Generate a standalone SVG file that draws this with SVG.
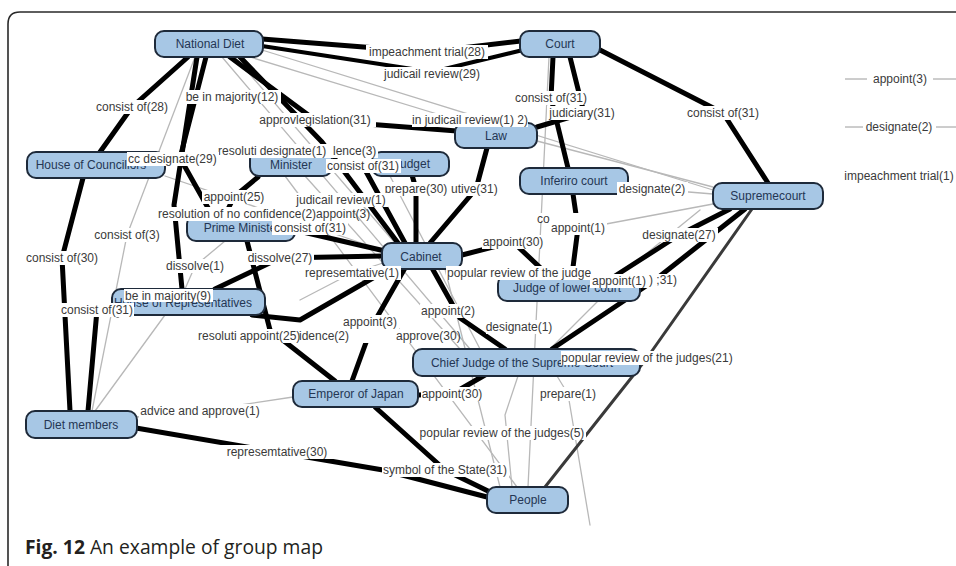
<svg xmlns="http://www.w3.org/2000/svg" width="956" height="566" viewBox="0 0 956 566">
<style>
  .e{fill:none;stroke:#000;stroke-linejoin:round;stroke-linecap:round}
  .w5{stroke-width:5}
  .w4{stroke-width:4}
  .w3{stroke:#3a3a3a;stroke-width:3}
  .g{stroke:#b8b8b8;stroke-width:1.3}
  .nd rect{fill:#a7c7e5;stroke:#1e2a3a;stroke-width:2}
  .nd text{font-family:"Liberation Sans",Arial,sans-serif;font-size:12px;fill:#243654;text-anchor:middle}
  .lb rect{fill:#fff}
  .lb text{font-family:"Liberation Sans",Arial,sans-serif;font-size:12px;fill:#3a3a3a;text-anchor:middle}
  .lb text.s{text-anchor:start}
  .legend line{stroke:#9a9a9a;stroke-width:1}
  .legend text{font-family:"Liberation Sans",Arial,sans-serif;font-size:12px;fill:#3a3a3a;text-anchor:middle}
</style>
<rect width="956" height="566" fill="#fff"/>
<!-- figure frame -->
<path d="M8,566 V24 Q8,12 20,12 H956" fill="none" stroke="#2a2a2a" stroke-width="1.6"/>

<!-- connectors -->
<g id="connectors">
  <!-- light edges -->
  <path class="e g" d="M195,57 L127,235 L92,411"/>
  <path class="e g" d="M137,417 L200,411 L293,397"/>
  <path class="e g" d="M262,50 L713,190"/>
  <path class="e g" d="M537,141 L713,187"/>
  <path class="e g" d="M628,186 L652,189 L713,194"/>
  <path class="e g" d="M606,224 L713,204"/>
  <path class="e g" d="M549,57 L528,487"/>
  <path class="e g" d="M222,57 L470,349"/>
  <path class="e g" d="M235,57 L395,243"/>
  <path class="e g" d="M250,57 L470,124"/>
  <path class="e g" d="M285,176 L517,487"/>
  <path class="e g" d="M305,176 L460,349"/>
  <path class="e g" d="M165,176 L382,250"/>
  <path class="e g" d="M165,315 L95,411"/>
  <path class="e g" d="M225,241 L195,266 L185,289"/>
  <path class="e g" d="M518,376 L505,415 L512,487"/>
  <path class="e g" d="M557,376 L568,394 L590,525"/>
  <path class="e g" d="M598,301 L550,349"/>
  <path class="e g" d="M700,210 L620,275"/>
  <path class="e g" d="M445,269 L500,487"/>
  <path class="e g" d="M390,176 L480,349"/>
  <path class="e g" d="M383,263 L352,273 L300,300"/>
  <!-- heavy edges -->
  <path class="e w5" d="M262,39 L427,52 L521,41"/>
  <path class="e w4" d="M262,46 L432,72 L523,50"/>
  <path class="e w5" d="M188,57 L132,107 L100,152"/>
  <path class="e w5" d="M230,57 L315,120 L457,131"/>
  <path class="e w5" d="M240,57 L322,142 L398,243"/>
  <path class="e w5" d="M197,57 L174,205 L182,289"/>
  <path class="e w5" d="M206,57 L180,158 L212,215"/>
  <path class="e w5" d="M258,177 L234,197 L225,215"/>
  <path class="e w5" d="M83,178 L62,258 L70,411"/>
  <path class="e w5" d="M118,315 L97,310 L88,411"/>
  <path class="e w5" d="M215,289 L280,258 L383,256"/>
  <path class="e w5" d="M392,267 L300,320 L252,315"/>
  <path class="e w5" d="M247,241 L270,330 L335,381"/>
  <path class="e w5" d="M290,229 L385,251"/>
  <path class="e w5" d="M327,162 L363,166 L405,243"/>
  <path class="e w5" d="M416,243 L416,189 L412,175"/>
  <path class="e w5" d="M430,243 L476,189 L487,148"/>
  <path class="e w5" d="M462,255 L513,242 L548,275"/>
  <path class="e w5" d="M432,268 L460,318 L505,349"/>
  <path class="e w5" d="M405,268 L372,326 L352,381"/>
  <path class="e w5" d="M553,57 L551,98 L568,168"/>
  <path class="e w5" d="M570,57 L584,113 L537,127"/>
  <path class="e w5" d="M600,50 L723,113 L768,183"/>
  <path class="e w5" d="M573,194 L578,228 L572,275"/>
  <path class="e w5" d="M730,209 L679,235 L615,276"/>
  <path class="e w5" d="M745,209 L655,280 L552,349"/>
  <path class="e w5" d="M418,395 L452,394 L485,375"/>
  <path class="e w5" d="M375,407 L445,470 L490,492"/>
  <path class="e w5" d="M136,428 L277,452 L383,470 L487,497"/>
  <path class="e w3" d="M752,209 L647,358 L545,487"/>
</g>

<!-- nodes -->
<g id="node-national-diet" class="nd"><rect x="155" y="31" width="108" height="26" rx="9"/><text x="210" y="48">National Diet</text></g>
<g id="node-court" class="nd"><rect x="520" y="31" width="80" height="26" rx="9"/><text x="560" y="48">Court</text></g>
<g id="node-house-of-councillors" class="nd"><rect x="27" y="152" width="138" height="26" rx="9"/><text x="91" y="169">House of Councillors</text></g>
<g id="node-minister" class="nd"><rect x="250" y="150" width="82" height="26" rx="9"/><text x="291" y="169">Minister</text></g>
<g id="node-budget" class="nd"><rect x="372" y="152" width="77" height="24" rx="9"/><text x="411" y="168">Budget</text></g>
<g id="node-law" class="nd"><rect x="455" y="123" width="82" height="25" rx="9"/><text x="496" y="140">Law</text></g>
<g id="node-inferior-court" class="nd"><rect x="520" y="168" width="108" height="26" rx="9"/><text x="574" y="185">Inferiro court</text></g>
<g id="node-supremecourt" class="nd"><rect x="713" y="183" width="110" height="26" rx="9"/><text x="768" y="200">Supremecourt</text></g>
<g id="node-prime-minister" class="nd"><rect x="187" y="215" width="108" height="26" rx="9"/><text x="242" y="232">Prime Minister</text></g>
<g id="node-cabinet" class="nd"><rect x="382" y="243" width="80" height="26" rx="9"/><text x="421" y="261">Cabinet</text></g>
<g id="node-house-of-representatives" class="nd"><rect x="112" y="289" width="153" height="26" rx="9"/><text x="183" y="307">House of Representatives</text></g>
<g id="node-judge-of-lower-court" class="nd"><rect x="498" y="275" width="142" height="26" rx="9"/><text x="567" y="292">Judge of lower court</text></g>
<g id="node-chief-judge" class="nd"><rect x="413" y="349" width="227" height="27" rx="9"/><text x="522" y="367">Chief Judge of the Supreme Court</text></g>
<g id="node-emperor" class="nd"><rect x="293" y="381" width="125" height="26" rx="9"/><text x="356" y="398">Emperor of Japan</text></g>
<g id="node-diet-members" class="nd"><rect x="26" y="411" width="111" height="27" rx="9"/><text x="81" y="429">Diet members</text></g>
<g id="node-people" class="nd"><rect x="487" y="487" width="81" height="26" rx="9"/><text x="528" y="504">People</text></g>

<!-- edge labels -->
<g id="edge-labels" class="lb">
  <rect x="366" y="45" width="122" height="14"/><text x="427" y="56">impeachment trial(28)</text>
  <rect x="382" y="67" width="101" height="14"/><text x="432" y="78">judicail review(29)</text>
  <rect x="94" y="100" width="75" height="14"/><text x="132" y="111">consist of(28)</text>
  <rect x="184" y="90" width="97" height="14"/><text x="232" y="101">be in majority(12)</text>
  <rect x="254" y="113" width="122" height="14"/><text x="315" y="124">approvlegislation(31)</text>
  <rect x="412" y="113" width="116" height="14"/><text x="470" y="124">in judicail review(1) 2)</text>
  <rect x="514" y="91" width="74" height="14"/><text x="551" y="102">consist of(31)</text>
  <rect x="547" y="106" width="69" height="14"/><text x="582" y="117">judiciary(31)</text>
  <rect x="685" y="106" width="76" height="14"/><text x="723" y="117">consist of(31)</text>
  <rect x="217" y="144" width="161" height="14"/><text class="s" x="218" y="155">resoluti</text>
  <text x="293" y="155">designate(1)</text><text class="s" x="333" y="155">lence(3)</text>
  <rect x="127" y="152" width="92" height="14"/><text class="s" x="128" y="163">cc</text>
  <text x="180" y="163">designate(29)</text>
  <rect x="326" y="159" width="75" height="14"/><text x="363" y="170">consist of(31)</text>
  <rect x="384" y="182" width="117" height="14"/><text x="416" y="193">prepare(30)</text>
  <text class="s" x="451" y="193">utive(31)</text>
  <rect x="202" y="190" width="64" height="14"/><text x="234" y="201">appoint(25)</text>
  <rect x="157" y="207" width="196" height="14"/><text class="s" x="158" y="218">resolution of no confidence(2)appoint(3)</text>
  <rect x="294" y="193" width="94" height="14"/><text x="341" y="204">judicail review(1)</text>
  <rect x="272" y="221" width="76" height="14"/><text x="310" y="232">consist of(31)</text>
  <rect x="92" y="228" width="69" height="14"/><text x="127" y="239">consist of(3)</text>
  <rect x="25" y="251" width="75" height="14"/><text x="62" y="262">consist of(30)</text>
  <rect x="161" y="259" width="68" height="14"/><text x="195" y="270">dissolve(1)</text>
  <rect x="246" y="251" width="68" height="14"/><text x="280" y="262">dissolve(27)</text>
  <rect x="304" y="266" width="97" height="14"/><text x="352" y="277">represemtative(1)</text>
  <rect x="482" y="235" width="62" height="14"/><text x="513" y="246">appoint(30)</text>
  <rect x="536" y="213" width="76" height="9"/><text class="s" x="537" y="223">co</text>
  <rect x="549" y="221" width="58" height="14"/><text x="578" y="232">appoint(1)</text>
  <rect x="617" y="182" width="71" height="14"/><text x="652" y="193">designate(2)</text>
  <rect x="446" y="266" width="145" height="14"/><text class="s" x="447" y="277">popular review of the judge</text>
  <rect x="590" y="274" width="87" height="14"/><text x="619" y="285">appoint(1)</text>
  <text class="s" x="649" y="284">) ;31)</text>
  <rect x="641" y="228" width="77" height="14"/><text x="679" y="239">designate(27)</text>
  <rect x="420" y="304" width="56" height="14"/><text x="448" y="315">appoint(2)</text>
  <rect x="486" y="320" width="67" height="14"/><text x="519" y="331">designate(1)</text>
  <rect x="197" y="329" width="254" height="14"/><text class="s" x="198" y="340">resoluti</text>
  <text x="270" y="340">appoint(25)</text>
  <text class="s" x="299" y="340">idence(2)</text>
  <text class="s" x="396" y="340">approve(30)</text>
  <rect x="342" y="315" width="57" height="14"/><text x="370" y="326">appoint(3)</text>
  <rect x="561" y="351" width="173" height="14"/><text x="647" y="362">popular review of the judges(21)</text>
  <rect x="421" y="387" width="63" height="14"/><text x="452" y="398">appoint(30)</text>
  <rect x="539" y="387" width="59" height="14"/><text x="568" y="398">prepare(1)</text>
  <rect x="419" y="426" width="167" height="14"/><text x="502" y="437">popular review of the judges(5)</text>
  <rect x="139" y="404" width="122" height="14"/><text x="200" y="415">advice and approve(1)</text>
  <rect x="221" y="445" width="113" height="14"/><text x="277" y="456">represemtative(30)</text>
  <rect x="382" y="463" width="127" height="14"/><text x="445" y="474">symbol of the State(31)</text>
  <rect x="124" y="289" width="89" height="13"/><text x="168" y="300">be in majority(9)</text>
  <rect x="59" y="303" width="75" height="14"/><text x="97" y="314">consist of(31)</text>
</g>

<!-- key of edge kinds -->
<g id="legend" class="legend">
  <line x1="845" y1="79" x2="867" y2="79"/><line x1="933" y1="79" x2="956" y2="79"/>
  <text x="900" y="83">appoint(3)</text>
  <line x1="845" y1="127" x2="863" y2="127"/><line x1="936" y1="127" x2="956" y2="127"/>
  <text x="899" y="131">designate(2)</text>
  <text x="899" y="180">impeachment trial(1)</text>
</g>

<!-- caption -->
<text x="25" y="554" font-family="'Open Sans','Noto Sans',sans-serif" font-size="19.3" fill="#231f20"><tspan font-weight="bold">Fig. 12</tspan> An example of group map</text>
</svg>
